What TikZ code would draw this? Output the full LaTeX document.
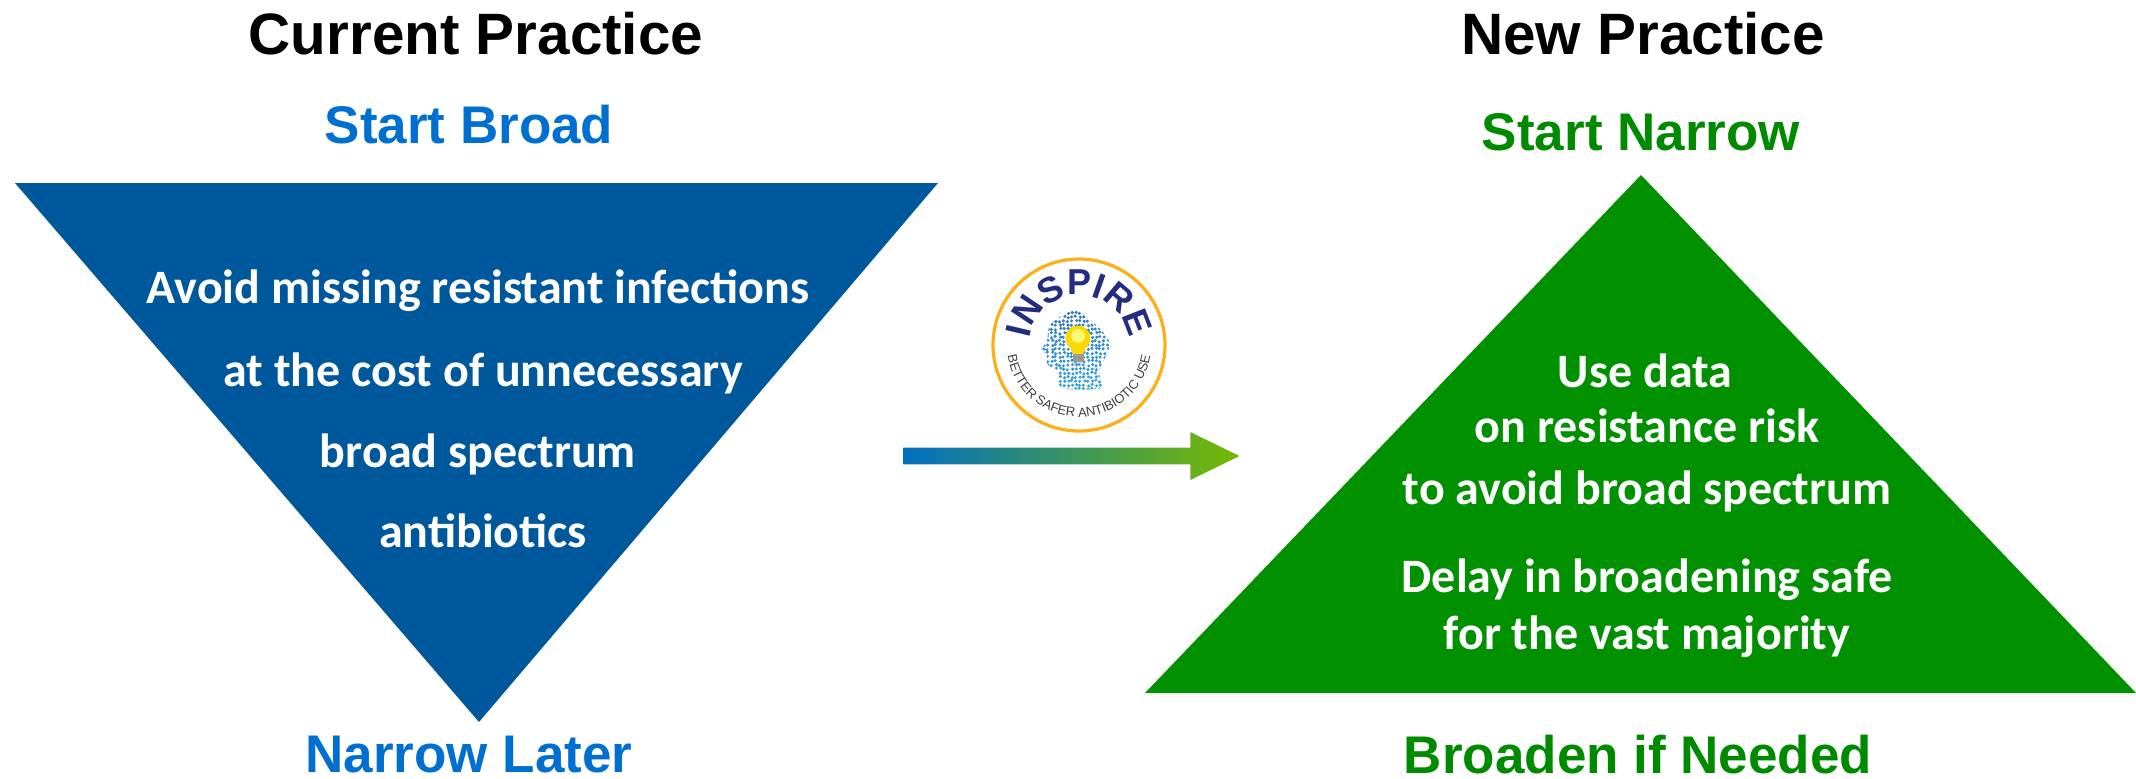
\documentclass[tikz,border=0pt]{standalone}
\usepackage{fontspec}
\setmainfont{Carlito}
\newfontfamily\headfont{Liberation Sans}
\usetikzlibrary{shapes.arrows,decorations.text}
\definecolor{broadblue}{HTML}{00589C}
\definecolor{labelblue}{HTML}{0070D0}
\definecolor{narrowgreen}{HTML}{009000}
\definecolor{labelgreen}{HTML}{008A00}
\definecolor{arrowstart}{HTML}{0070C0}
\definecolor{arrowend}{HTML}{76B900}
\definecolor{logonavy}{HTML}{232C7E}
\definecolor{logoring}{HTML}{FCAF17}
\definecolor{headtop}{HTML}{2A74BC}
\definecolor{headlow}{HTML}{35A6E0}
\tikzset{
  title/.style={font=\headfont\bfseries\fontsize{29.2}{32}\selectfont, inner sep=0pt},
  tag/.style={font=\headfont\bfseries\fontsize{26.5}{30}\selectfont, inner sep=0pt},
  body/.style={font=\bfseries\fontsize{24}{28}\selectfont, text=white, inner sep=0pt}
}
\begin{document}
\begin{tikzpicture}[x=0.5pt, y=-0.5pt]
\useasboundingbox (0,0) rectangle (2136,778);
% triangles
\fill[broadblue] (15,183) -- (938,183) -- (479,722) -- cycle;
\fill[narrowgreen] (1641,175) -- (2136,693) -- (1145,693) -- cycle;
% headings
\node[title] (current) at (476,34) {Current Practice};
\node[title] (new) at (1643,34) {New Practice};
\node[tag, text=labelblue] (startbroad) at (469,125) {Start Broad};
\node[tag, text=labelblue] (narrowlater) at (469,755) {Narrow Later};
\node[tag, text=labelgreen] (startnarrow) at (1641,132) {Start Narrow};
\node[tag, text=labelgreen] (broaden) at (1638,755) {Broaden if Needed};
% left text
\node[body] (avoid) at (478,291) {Avoid missing resistant infections};
\node[body] (cost) at (483,373) {at the cost of unnecessary};
\node[body] (spectrum) at (478,454) {broad spectrum};
\node[body] (antibiotics) at (483,531) {antibiotics};
% right text
\node[body] (usedata) at (1645,371) {Use data};
\node[body] (risk) at (1647,426) {on resistance risk};
\node[body] (avoidbroad) at (1647,491) {to avoid broad spectrum};
\node[body] (delay) at (1647,580) {Delay in broadening safe};
\node[body] (majority) at (1647,637) {for the vast majority};
% arrow
\node[single arrow, shape border rotate=0, inner sep=0pt, anchor=west,
  text height=8pt, text depth=0pt,
  minimum width=23.5pt, minimum height=168pt,
  single arrow head extend=7.75pt, single arrow tip angle=52,
  left color=arrowstart, right color=arrowend] (shift) at (903,456) {};
% logo
\coordinate (logo) at (1079,345);
\begin{scope}[shift={(logo)}, x=0.5pt, y=0.5pt]
  \draw[logoring, line width=1.6pt, fill=white] (0,0) circle [radius=86];
  \begin{scope}
    \clip plot[smooth cycle, tension=0.5] coordinates {(-17,-43) (22,-43) (20,-26) (30,4) (-2,34)
      (-28,21) (-32,4) (-38,-5) (-32,-9) (-32,-19) (-22,-26)};
    \pgfmathsetseed{7}
    \foreach \px in {-40,-36,...,36} {
      \foreach \py in {-45,-41,...,37} {
        \pgfmathsetmacro{\shade}{(\py+45)*1.2}
        \fill[headtop!\shade!headlow] ({\px+rnd*2},{\py+rnd*2}) circle [radius=1.7];
      }
    }
  \end{scope}
  \fill[gray!80] (-6,-17) rectangle (5,-8);
  \fill[yellow!75!orange] (-1,7) circle [radius=12.5];
  \fill[yellow!75!orange] (-9,-2) -- (7,-2) -- (4,-9) -- (-6,-9) -- cycle;
  \fill[yellow!55] (-1,9) circle [radius=7];
  \path[decorate, decoration={text along path, text align=center,
    text={|\headfont\bfseries\fontsize{18}{18}\selectfont\color{logonavy}|INSPIRE}}]
    (170:50) arc [start angle=170, end angle=10, radius=50];
  \path[decorate, decoration={text along path, text align=center,
    text={|\headfont\fontsize{6.5}{7}\selectfont\color{black!75}|BETTER SAFER ANTIBIOTIC USE}}]
    (176:72) arc [start angle=176, end angle=364, radius=72];
\end{scope}
\end{tikzpicture}
\end{document}
